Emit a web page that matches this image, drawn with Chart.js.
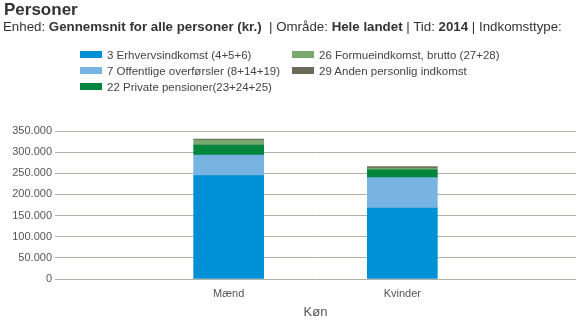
<!DOCTYPE html>
<html>
<head>
<meta charset="utf-8">
<script src="https://cdn.jsdelivr.net/npm/chart.js@4"></script>
<style>
  html, body { margin: 0; padding: 0; background: #fff; }
  body { width: 584px; height: 324px; position: relative; overflow: hidden; font-family: "Liberation Sans", Arial, sans-serif; color: #333; }
  #title { position: absolute; left: 4px; top: 0px; font-size: 17px; line-height: 20px; font-weight: bold; color: #333; }
  #sub { position: absolute; left: 3px; top: 19px; font-size: 13.3px; line-height: 15px; color: #333; white-space: nowrap; }
  #sub b { font-weight: bold; }
  #legend { position: absolute; left: 80px; top: 48px; font-size: 11.5px; color: #444; }
  .li { position: absolute; white-space: nowrap; height: 14px; line-height: 14px; }
  .sw { display: inline-block; width: 22px; height: 7px; vertical-align: middle; margin-right: 5px; position: relative; top: -1px; }
  #wrap { position: absolute; left: 0; top: 0; width: 584px; height: 324px; }
</style>
</head>
<body>
<div id="wrap"><canvas id="c" width="584" height="324"></canvas></div>
<div id="title">Personer</div>
<div id="sub">Enhed: <b>Gennemsnit for alle personer (kr.)</b> &nbsp;| Område: <b>Hele landet</b> | Tid: <b>2014</b> | Indkomsttype:</div>
<div id="legend"></div>
<script>
const categories = ['Mænd', 'Kvinder'];
const seriesNames = [
  '3 Erhvervsindkomst (4+5+6)',
  '7 Offentlige overførsler (8+14+19)',
  '22 Private pensioner(23+24+25)',
  '26 Formueindkomst, brutto (27+28)',
  '29 Anden personlig indkomst'
];
const erhverv = [244300, 168000];
const offentlige = [49000, 71700];
const privatePension = [23600, 18200];
const formue = [11800, 4700];
const anden = [2400, 3000];
const yTicks = [0, 50000, 100000, 150000, 200000, 250000, 300000, 350000];
const colors = ['#0090d5', '#78b4e2', '#00853e', '#78a96e', '#6b6a58'];

const seriesValues = [erhverv, offentlige, privatePension, formue, anden];

// Legend (two columns, as in the reference)
const legend = document.getElementById('legend');
const legendPos = [[0, 0], [0, 16], [0, 32], [212, 0], [212, 16]];
seriesNames.forEach((n, i) => {
  const d = document.createElement('div');
  d.className = 'li';
  d.style.left = legendPos[i][0] + 'px';
  d.style.top = legendPos[i][1] + 'px';
  d.innerHTML = '<span class="sw" style="background:' + colors[i] + '"></span>' + n;
  legend.appendChild(d);
});

const labels = [''].concat(categories, ['']);
const datasets = seriesNames.map((n, i) => ({
  label: n,
  data: [null].concat(seriesValues[i], [null]),
  backgroundColor: colors[i],
  borderWidth: 0,
  barThickness: 70,
  stack: 's'
}));

const tickFont = { family: '"Liberation Sans", Arial, sans-serif', size: 11 };

new Chart(document.getElementById('c'), {
  type: 'bar',
  data: { labels, datasets },
  options: {
    responsive: false,
    animation: false,
    layout: { padding: { top: 131, right: 3, left: 0, bottom: 0 } },
    plugins: { legend: { display: false }, tooltip: { enabled: false }, title: { display: false } },
    scales: {
      x: {
        stacked: true,
        offset: false,
        grid: { display: false, drawTicks: false },
        border: { display: false },
        ticks: { color: '#555', font: tickFont, padding: 8, maxRotation: 0, autoSkip: false },
        title: { display: true, text: 'Køn', color: '#555', font: { family: '"Liberation Sans", Arial, sans-serif', size: 13 }, padding: { top: 2, bottom: 4 } },
        afterFit: (s) => { s.height = 45; }
      },
      y: {
        stacked: true,
        min: 0,
        max: 350000,
        grid: { color: '#b2b1a2', drawTicks: false, lineWidth: 1 },
        border: { display: false },
        afterBuildTicks: (s) => { s.ticks = yTicks.map(v => ({ value: v })); },
        ticks: {
          color: '#555',
          font: tickFont,
          padding: 3,
          callback: (v) => v.toLocaleString('da-DK')
        },
        afterFit: (s) => { s.width = 55; }
      }
    }
  }
});
</script>
</body>
</html>
